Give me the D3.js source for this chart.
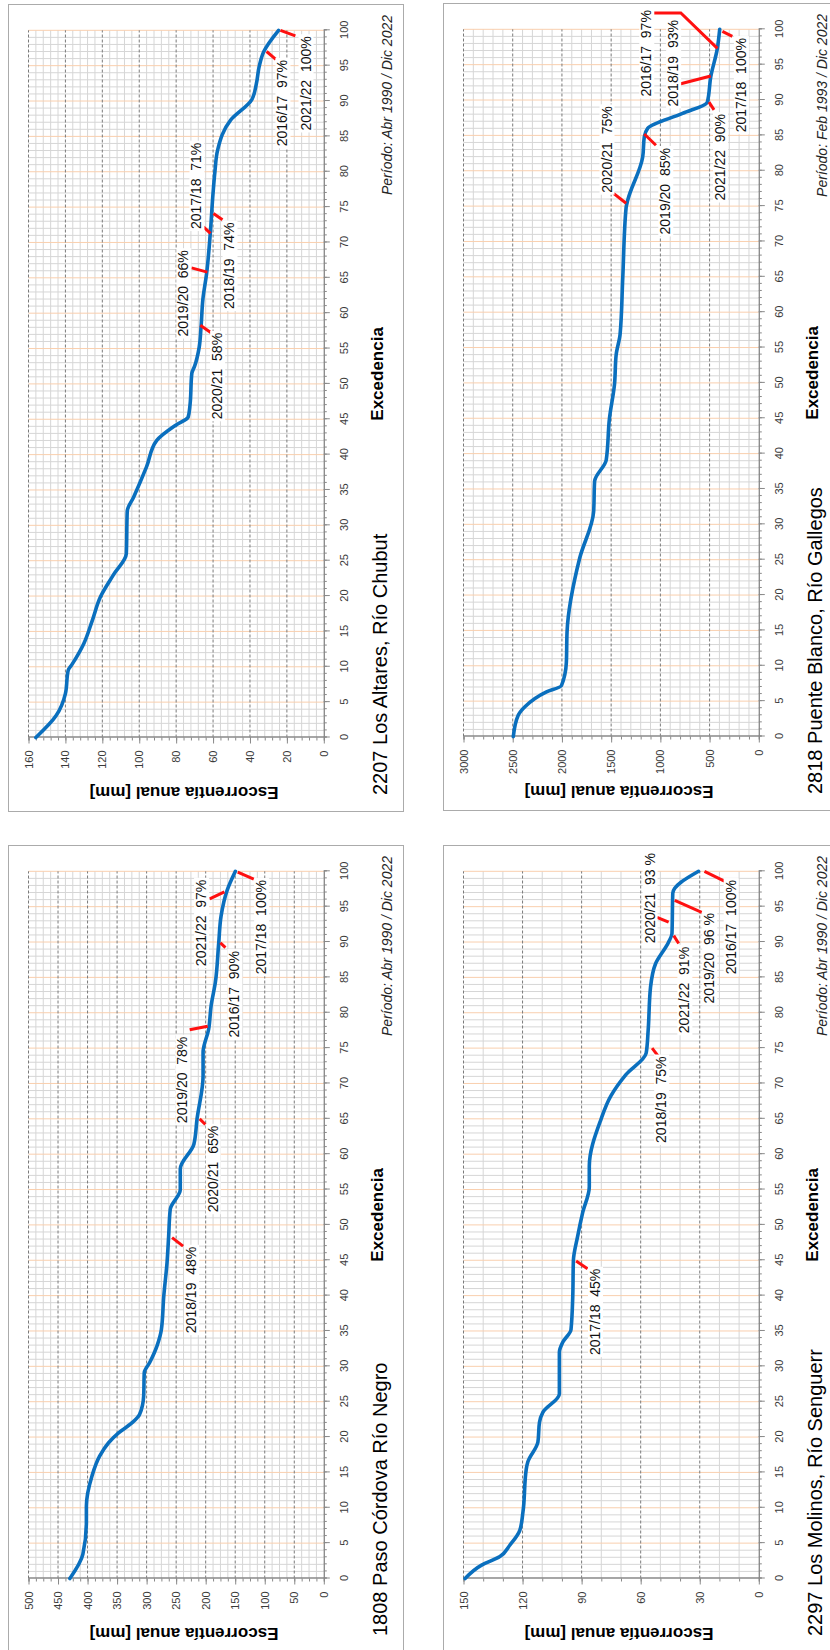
<!DOCTYPE html>
<html><head><meta charset="utf-8">
<script src="https://cdn.jsdelivr.net/npm/d3@7"></script>
<style>body{margin:0;background:#fff} text{font-family:Arial,"Liberation Sans",sans-serif}</style>
</head><body><svg id="c" width="830" height="1650"></svg>
<script>
// ---------- DATA ----------
const altaresExc = [0,3.1,6.2,9.5,10.3,13.3,16.5,19.9,23,26,32,34,38.3,42,44.2,45.3,47,51.5,52.5,55.2,58.1,62,65.6,71.3,77,80,83.1,87.3,90.2,92.5,94.9,97,100];
const altaresVal = [156,145,140,138.5,136.5,130,125.5,121,114,107,106.5,103,96,90.5,80,73.5,72.5,71.5,70,67.5,66.5,65.5,63.5,61.5,60,59,57.5,50.5,39,36.5,35,32.5,24.5];
const altaresNotes = [
  {text:"2016/17  97%",  e:89.7, v:22.4, lead:[[97,31],[95.9,26]]},
  {text:"2021/22  100%", e:92.5, v:9.9,  lead:[[100,23.5],[99.2,15.4]]},
  {text:"2017/18  71%",  e:78,   v:69,   lead:[[72.2,65.2],[71.3,61.4]]},
  {text:"2018/19  74%",  e:66.7, v:51.1, lead:[[74.1,59.8],[73.2,54.9]]},
  {text:"2019/20  66%",  e:62.8, v:76.1, lead:[[66.4,71.7],[65.8,63.1]]},
  {text:"2020/21  58%",  e:51.1, v:57.8, lead:[[58.3,66.9],[57.2,60.9]]}
];

const blancoExc = [0,3,4.2,6.3,7.2,10.5,14.8,25.2,31.8,36.1,39.1,45,49.8,54,56.9,64.9,74.8,75.8,81.9,84.8,86,88.1,89.7,93.3,97.3,100];
const blancoVal = [2494,2444,2376,2157,2005,1955,1948,1820,1678,1668,1550,1517,1466,1449,1409,1382,1348,1332,1180,1163,1129,775,523,488,421,397];
const blancoNotes = [
  {text:"2016/17  97%",  e:96.6, v:1143, lead:[[102.3,1082],[102.3,792],[97.3,421]]},
  {text:"2018/19  93%",  e:95.2, v:870,  lead:[[92.3,792],[93.4,488]]},
  {text:"2017/18  100%", e:92.1, v:182,  lead:[[99.7,370],[99,269]]},
  {text:"2021/22  90%",  e:81.9, v:394,  lead:[[89.7,506],[88.6,455]]},
  {text:"2020/21  75%",  e:83.0, v:1547, lead:[[76.8,1476],[75.4,1348]]},
  {text:"2019/20  85%",  e:77.1, v:950,  lead:[[85.2,1163],[83.6,1045]]}
];

const cordovaExc = [0,3.4,7.9,10.2,14.5,17.3,19.2,20.6,22,23.2,25.8,29.1,30.5,32.9,35.2,39.9,44.7,48.4,52.2,55,57.9,61.4,65,71.1,74.4,77.7,81,84.3,89.9,93.7,97.3,100];
const cordovaVal = [430,408,402,402,392.5,379.6,364.4,347.5,325,312,305,304,295,282.4,275,271,265.4,262.7,260,243,243,220,214.6,204.4,204.4,194.9,190.8,183.6,177.9,173.9,163.7,149.7];
const cordovaNotes = [
  {text:"2021/22  97%",  e:92.7, v:207.8, lead:[[96.1,193.2],[97.1,168.3]]},
  {text:"2017/18  100%", e:92.1, v:106.1, lead:[[99.9,145.8],[98.9,118.6]]},
  {text:"2016/17  90%",  e:82.6, v:151.4, lead:[[89.9,175.1],[89.2,166.6]]},
  {text:"2019/20  78%",  e:70.5, v:239.5, lead:[[77.6,227.1],[78.1,196.6]]},
  {text:"2020/21  65%",  e:57.9, v:188.1, lead:[[65,210.2],[64.2,200.5]]},
  {text:"2018/19  48%",  e:40.8, v:224.7, lead:[[48.2,256.9],[47,238.3]]}
];

const molinosExc = [0,1.9,3.1,4.7,6.8,9.4,15.5,16.5,19.3,22.1,23.5,26.1,32,33.4,35.2,39.9,44.9,48.4,51.7,55.4,58.3,64.9,68.2,71.2,74.3,77.5,83.6,86.9,90,91.2,96.9,100];
const molinosVal = [149.2,140.8,131.5,126.5,121.4,119.8,118.1,117.3,112.2,111.4,109.7,101.3,101.3,99.6,95.4,94.5,94.2,92,89.5,86.1,86.1,80.2,75.2,67.6,57.2,56.2,55,52.5,45.8,44.1,43.7,30.6];
const molinosNotes = [
  {text:"2020/21  93 %", e:96.2, v:55.5, lead:[[93.5,51.7],[92.8,45.8]]},
  {text:"2021/22  91%",  e:83.2, v:37.8, lead:[[90.9,43.2],[89.8,40.7]]},
  {text:"2019/20  96 %", e:87.7, v:25.2, lead:[[95.9,42.7],[94.2,29]]},
  {text:"2016/17  100%", e:92.1, v:14.3, lead:[[100,27.6],[98.6,17.5]]},
  {text:"2018/19  75%",  e:67.7, v:49.6, lead:[[75,54.2],[73.9,51.2]]},
  {text:"2017/18  45%",  e:37.7, v:83.2, lead:[[44.9,92.8],[43.8,87]]}
];

const xTicks = d3.range(0, 101, 5);
const xMinor = d3.range(0, 101, 1);
const xTitle = "Excedencia";
const yTitle = "Escorrentía anual [mm]";

const panels = [
  {left:8,   top:5,   title:"2207 Los Altares, Río Chubut",    period:"Período: Abr 1990 / Dic 2022", vmax:160,  major:20,  minorDiv:5, exc:altaresExc, val:altaresVal, notes:altaresNotes},
  {left:443, top:4,   title:"2818 Puente Blanco, Río Gallegos", period:"Período: Feb 1993 / Dic 2022", vmax:3000, major:500, minorDiv:5, exc:blancoExc,  val:blancoVal,  notes:blancoNotes},
  {left:8,   top:846, title:"1808 Paso Córdova Río Negro",     period:"Período: Abr 1990 / Dic 2022", vmax:500,  major:50,  minorDiv:4, exc:cordovaExc, val:cordovaVal, notes:cordovaNotes},
  {left:443, top:846, title:"2297 Los Molinos, Río Senguerr",  period:"Período: Abr 1990 / Dic 2022", vmax:150,  major:30,  minorDiv:3, exc:molinosExc, val:molinosVal, notes:molinosNotes}
];

// ---------- DRAW ----------
const svg = d3.select("#c");
const PW = 395, PH = 807;           // panel size on screen
const X0 = 74.5, X1 = 781.7;        // inner x for excedencia 0 / 100
const Y0 = 20.5, Y1 = 315.8;        // inner y for vmax / 0
const axisCol = "#898989";

panels.forEach(p => {
  // chart is drawn un-rotated, then turned 90° counter-clockwise
  const g = svg.append("g").attr("transform", `translate(${p.left},${p.top + PH}) rotate(-90)`);
  g.append("rect").attr("x", 0.5).attr("y", 0.5).attr("width", PH).attr("height", PW)
    .attr("fill", "#fff").attr("stroke", "#ababab").attr("stroke-width", 1);

  const x = d3.scaleLinear().domain([0, 100]).range([X0, X1]);
  const y = d3.scaleLinear().domain([0, p.vmax]).range([Y1, Y0]);

  const grid = g.append("g");
  grid.selectAll(".xm").data(xMinor.filter(d => d % 5 !== 0)).join("line")
    .attr("x1", d => x(d)).attr("x2", d => x(d)).attr("y1", Y0).attr("y2", Y1)
    .attr("stroke", "#d6d6d6").attr("stroke-width", 1);
  const minorStep = p.major / p.minorDiv;
  const yMinor = d3.range(0, p.vmax + 1e-9, minorStep).filter(d => Math.abs(d / p.major - Math.round(d / p.major)) > 1e-6);
  grid.selectAll(".ym").data(yMinor).join("line")
    .attr("x1", X0).attr("x2", X1).attr("y1", d => y(d)).attr("y2", d => y(d))
    .attr("stroke", "#d6d6d6").attr("stroke-width", 1);
  grid.selectAll(".xM").data(xTicks.filter(d => d > 0)).join("line")
    .attr("x1", d => x(d)).attr("x2", d => x(d)).attr("y1", Y0).attr("y2", Y1)
    .attr("stroke", "#f9cfae").attr("stroke-width", 1);
  const yTicks = d3.range(0, p.vmax + 1e-9, p.major);
  grid.selectAll(".yM").data(yTicks.filter(d => d > 0)).join("line")
    .attr("x1", X0).attr("x2", X1).attr("y1", d => y(d)).attr("y2", d => y(d))
    .attr("stroke", "#7a7a7a").attr("stroke-width", 1).attr("stroke-dasharray", "3,2");

  const xAxisMinor = g.append("g").attr("transform", `translate(0,${Y1})`)
    .call(d3.axisBottom(x).tickValues(xMinor).tickSize(3).tickFormat(""));
  const xAxis = g.append("g").attr("transform", `translate(0,${Y1})`)
    .call(d3.axisBottom(x).tickValues(xTicks).tickSize(6).tickSizeOuter(0).tickPadding(10.5).tickFormat(d3.format("d")));
  const yAxisMinor = g.append("g").attr("transform", `translate(${X0},0)`)
    .call(d3.axisLeft(y).tickValues(d3.range(0, p.vmax + 1e-9, minorStep)).tickSize(3).tickFormat(""));
  const yAxis = g.append("g").attr("transform", `translate(${X0},0)`)
    .call(d3.axisLeft(y).tickValues(yTicks).tickSize(6).tickSizeOuter(0).tickPadding(7).tickFormat(d3.format("d")));
  [xAxisMinor, xAxis, yAxisMinor, yAxis].forEach(a => {
    a.selectAll("path").attr("stroke", axisCol);
    a.selectAll("line").attr("stroke", axisCol);
    a.selectAll("text").attr("font-size", 11).attr("fill", "#3a3a3a")
      .style("font-family", "Arial, 'Liberation Sans', sans-serif");
  });

  const pts = p.exc.map((e, i) => [e, p.val[i]]);
  g.append("path").datum(pts)
    .attr("d", d3.line().x(d => x(d[0])).y(d => y(d[1])).curve(d3.curveMonotoneX))
    .attr("fill", "none").attr("stroke", "#0a6fbe").attr("stroke-width", 3.6)
    .attr("stroke-linejoin", "round").attr("stroke-linecap", "round");

  g.selectAll(".lead").data(p.notes).join("path")
    .attr("d", d => d3.line().x(q => x(q[0])).y(q => y(q[1]))(d.lead))
    .attr("fill", "none").attr("stroke", "#ff1010").attr("stroke-width", 3);

  p.notes.forEach(n => {
    const lg = g.append("g");
    const t = lg.append("text").attr("x", x(n.e)).attr("y", y(n.v))
      .attr("text-anchor", "middle").attr("dominant-baseline", "central")
      .attr("font-size", 14).attr("fill", "#111").style("white-space", "pre").text(n.text);
    const bb = t.node().getBBox();
    lg.insert("rect", "text").attr("x", bb.x - 2).attr("y", bb.y + 1)
      .attr("width", bb.width + 4).attr("height", bb.height - 1).attr("fill", "#fff");
  });

  g.append("text").attr("x", (X0 + X1) / 2 + 10).attr("y", 375)
    .attr("text-anchor", "middle").attr("font-size", 17).attr("font-weight", "bold").attr("fill", "#000").text(xTitle);
  g.append("text").attr("transform", `translate(20,176) rotate(-90)`)
    .attr("text-anchor", "middle").attr("dominant-baseline", "central")
    .attr("font-size", 17).attr("font-weight", "bold").attr("fill", "#000").text(yTitle);
  g.append("text").attr("x", 797).attr("y", 384).attr("text-anchor", "end")
    .attr("font-size", 14).attr("font-style", "italic").attr("fill", "#262626").text(p.period);
  g.append("text").attr("x", 17).attr("y", 379).attr("text-anchor", "start")
    .attr("font-size", 20).attr("fill", "#000").text(p.title);
});
</script></body></html>
